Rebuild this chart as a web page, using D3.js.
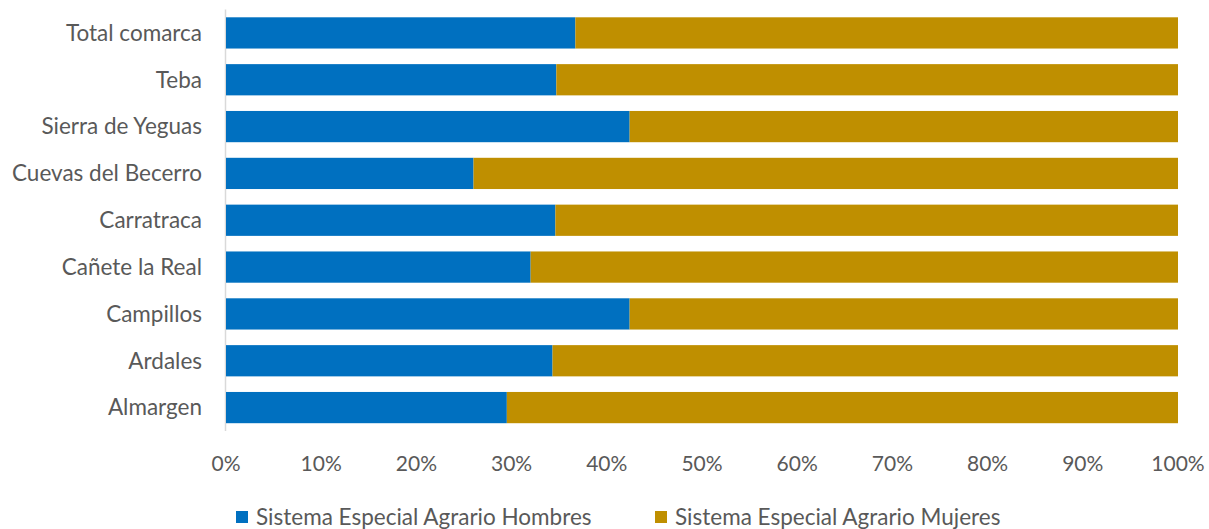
<!DOCTYPE html>
<html>
<head>
<meta charset="utf-8">
<script src="https://cdn.jsdelivr.net/npm/d3@7"></script>
<style>
  body { margin: 0; background: #fff; }
  text { font-family: Lato, "Open Sans", sans-serif; fill: #595959; }
</style>
</head>
<body>
<svg width="1209" height="529"></svg>
<script>
var categories = ["Total comarca", "Teba", "Sierra de Yeguas", "Cuevas del Becerro",
  "Carratraca", "Cañete la Real", "Campillos", "Ardales", "Almargen"];
var hombres = [36.7, 34.7, 42.4, 26.0, 34.6, 32.0, 42.4, 34.3, 29.5];
var mujeres = [63.3, 65.3, 57.6, 74.0, 65.4, 68.0, 57.6, 65.7, 70.5];
var seriesNames = ["Sistema Especial Agrario Hombres", "Sistema Especial Agrario Mujeres"];
var colors = ["#0070C0", "#BF8F00"];
var ticks = [0, 0.1, 0.2, 0.3, 0.4, 0.5, 0.6, 0.7, 0.8, 0.9, 1];

var svg = d3.select("svg");
var plotL = 226, plotR = 1178, plotT = 9.5, plotB = 431;

var rows = categories.map(function(c, i) {
  var t = hombres[i] + mujeres[i];
  return { cat: c, h: hombres[i] / t, m: mujeres[i] / t };
});
var stack = d3.stack().keys(["h", "m"])(rows);

var x = d3.scaleLinear().domain([0, 1]).range([plotL, plotR]);
var y = d3.scaleBand().domain(categories).range([plotT, plotB]).paddingInner(0.333).paddingOuter(0.1665);

// vertical axis line
svg.append("line")
  .attr("x1", plotL - 0.5).attr("x2", plotL - 0.5)
  .attr("y1", plotT).attr("y2", plotB)
  .attr("stroke", "#d9d9d9").attr("stroke-width", 1.5);

svg.append("g").selectAll("g")
  .data(stack).enter().append("g")
  .attr("fill", function(d, i) { return colors[i]; })
  .selectAll("rect")
  .data(function(d) { return d; }).enter().append("rect")
  .attr("x", function(d) { return x(d[0]); })
  .attr("width", function(d) { return x(d[1]) - x(d[0]); })
  .attr("y", function(d) { return y(d.data.cat); })
  .attr("height", y.bandwidth());

// category labels
svg.append("g").selectAll("text")
  .data(categories).enter().append("text")
  .attr("x", 202)
  .attr("y", function(d) { return y(d) + y.bandwidth() / 2; })
  .attr("dy", "0.35em")
  .attr("text-anchor", "end")
  .style("font-size", "22.5px")
  .text(function(d) { return d; });

// x tick labels
var fmt = d3.format(".0%");
svg.append("g").selectAll("text")
  .data(ticks).enter().append("text")
  .attr("x", function(d) { return x(d); })
  .attr("y", 464)
  .attr("dy", "0.35em")
  .attr("text-anchor", "middle")
  .style("font-size", "21px")
  .text(function(d) { return fmt(d); });

// legend
var legendX = [236, 655];
var lg = svg.append("g").selectAll("g")
  .data(seriesNames).enter().append("g")
  .attr("transform", function(d, i) { return "translate(" + legendX[i] + ",511)"; });
lg.append("rect").attr("width", 12).attr("height", 12)
  .attr("fill", function(d, i) { return colors[i]; });
lg.append("text").attr("x", 20).attr("y", 6).attr("dy", "0.35em")
  .style("font-size", "22.5px")
  .text(function(d) { return d; });
</script>
</body>
</html>
